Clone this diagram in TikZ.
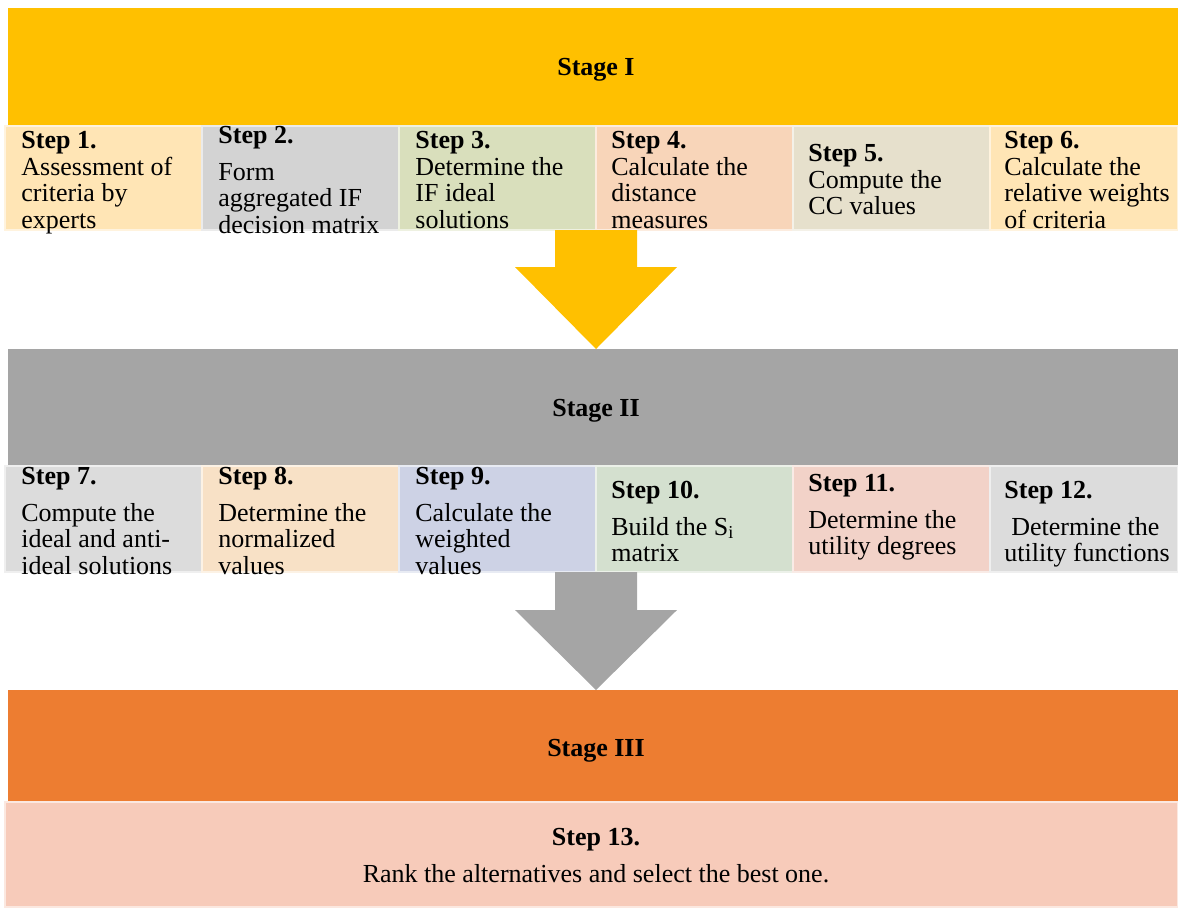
\documentclass[tikz,border=0pt]{standalone}
\usepackage{fontspec}
\setmainfont{Liberation Serif}
\usetikzlibrary{calc,positioning}
\definecolor{stgI}{HTML}{FFC000}
\definecolor{stgII}{HTML}{A5A5A5}
\definecolor{stgIII}{HTML}{ED7D31}
\definecolor{cA}{HTML}{FFE5B5}
\definecolor{cB}{HTML}{D3D3D3}
\definecolor{cC}{HTML}{D9DFBC}
\definecolor{cD}{HTML}{F8D5B9}
\definecolor{cE}{HTML}{E6E0CC}
\definecolor{cF}{HTML}{DCDCDC}
\definecolor{cG}{HTML}{F8E1C6}
\definecolor{cH}{HTML}{CDD2E5}
\definecolor{cI}{HTML}{D4E0CF}
\definecolor{cJ}{HTML}{F2D2C8}
\definecolor{cK}{HTML}{F7CBBA}

\begin{document}
\begin{tikzpicture}[x=0.5pt, y=-0.5pt,
	stage/.style={anchor=north west, fill=#1, minimum width=585pt, inner sep=0pt, outer sep=0pt, text depth=0pt, execute at begin node=\hspace*{3pt}, font=\fontsize{13}{14}\selectfont\bfseries},
	stepbox/.style={anchor=north west, fill=#1, draw=#1!45!white, line width=0.6pt, minimum width=98.5pt, minimum height=52pt, inner sep=0pt, outer sep=0pt},
	steptxt/.style={anchor=north west, align=left, inner sep=0pt, font=\fontsize{13}{13.25}\selectfont}]
	%%%%% START %%%%%
	\useasboundingbox (0,0) rectangle (1178,907);
	
	% stage I
	\node[stage=stgI, minimum height=59pt] (st1) at (8,8) {Stage I};
	\node[stepbox=cA] (s1) at (5,126) {};
	\node[stepbox=cB, right=0pt of s1] (s2) {};
	\node[stepbox=cC, right=0pt of s2] (s3) {};
	\node[stepbox=cD, right=0pt of s3] (s4) {};
	\node[stepbox=cE, right=0pt of s4] (s5) {};
	\node[stepbox=cA, right=0pt of s5, minimum width=94pt] (s6) {};
	
	\node[steptxt, below right=2.5pt and 8pt of s1.north west] (t1) {\textbf{Step 1.}\\Assessment of\\criteria by\\experts};
	\node[steptxt, below right=0pt and 8pt of s2.north west] (t2) {\textbf{Step 2.}\\[5pt]Form\\aggregated IF\\decision matrix};
	\node[steptxt, below right=2.5pt and 8pt of s3.north west] (t3) {\textbf{Step 3.}\\Determine the\\IF ideal\\solutions};
	\node[steptxt, below right=2.5pt and 7.5pt of s4.north west] (t4) {\textbf{Step 4.}\\Calculate the\\distance\\measures};
	\node[steptxt, below right=9pt and 7.5pt of s5.north west] (t5) {\textbf{Step 5.}\\Compute the\\CC values};
	\node[steptxt, below right=2.5pt and 7pt of s6.north west] (t6) {\textbf{Step 6.}\\Calculate the\\relative weights\\of criteria};
	
	% stage II
	\node[stage=stgII, minimum height=58.5pt] (st2) at (8,349) {Stage II};
	\fill[stgI] ($(s3.south east)+(-41,0)$) -- ++(82,0) -- ++(0,37) -- ++(40,0) -- (s3.south east |- st2.north) -- ++(-81,-82) -- ++(40,0) -- cycle;
	
	\node[stepbox=cF, minimum height=53pt] (s7) at (5,466) {};
	\node[stepbox=cG, minimum height=53pt, right=0pt of s7] (s8) {};
	\node[stepbox=cH, minimum height=53pt, right=0pt of s8] (s9) {};
	\node[stepbox=cI, minimum height=53pt, right=0pt of s9] (s10) {};
	\node[stepbox=cJ, minimum height=53pt, right=0pt of s10] (s11) {};
	\node[stepbox=cF, minimum height=53pt, right=0pt of s11, minimum width=94pt] (s12) {};
	
	\node[steptxt, below right=0.5pt and 8pt of s7.north west] (t7) {\textbf{Step 7.}\\[5pt]Compute the\\ideal and anti-\\ideal solutions};
	\node[steptxt, below right=0.5pt and 8pt of s8.north west] (t8) {\textbf{Step 8.}\\[5pt]Determine the\\normalized\\values};
	\node[steptxt, below right=0.5pt and 8pt of s9.north west] (t9) {\textbf{Step 9.}\\[5pt]Calculate the\\weighted\\values};
	\node[steptxt, below right=7.5pt and 7.5pt of s10.north west] (t10) {\textbf{Step 10.}\\[5pt]Build the S\textsubscript{i}\\matrix};
	\node[steptxt, below right=4pt and 7.5pt of s11.north west] (t11) {\textbf{Step 11.}\\[5pt]Determine the\\utility degrees};
	\node[steptxt, below right=7.5pt and 7pt of s12.north west] (t12) {\textbf{Step 12.}\\[5pt]\hspace*{3.5pt}Determine the\\utility functions};
	
	% stage III
	\node[stage=stgIII, minimum height=56pt] (st3) at (8,690) {\raisebox{-1.5pt}{Stage III}};
	\fill[stgII] ($(s9.south east)+(-41,0)$) -- ++(82,0) -- ++(0,38) -- ++(40,0) -- (s9.south east |- st3.north) -- ++(-81,-80) -- ++(40,0) -- cycle;
	
	\node[stepbox=cK, minimum width=586.5pt, minimum height=52.5pt] (s13) at (5,802) {};
	\node[steptxt, anchor=center, align=center] (t13) at (596,856) {\textbf{Step 13.}\\[5.25pt]Rank the alternatives and select the best one.};
	
	%%%%% END %%%%%
\end{tikzpicture}
\end{document}
